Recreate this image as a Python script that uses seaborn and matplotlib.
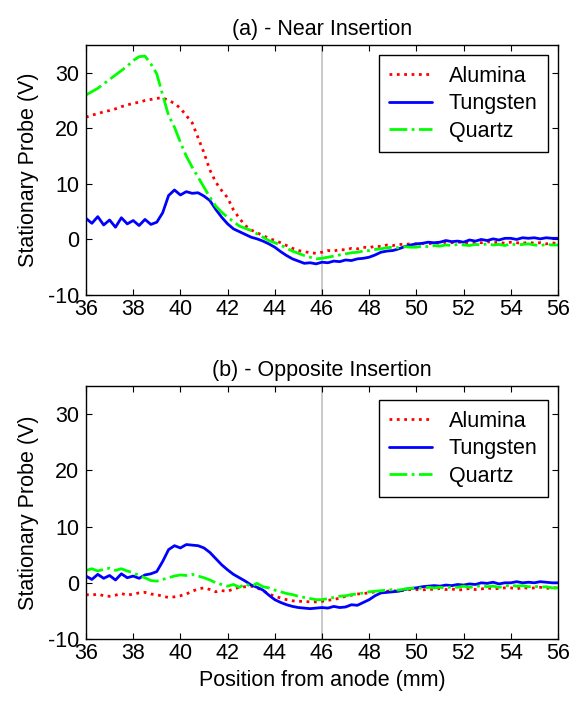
import numpy as np
import pandas as pd
import matplotlib
matplotlib.use("Agg")
import matplotlib.pyplot as plt
import seaborn as sns

# ---------------- data ----------------
position = np.linspace(36, 56, 81)  # sampling grid, mm (0.25 mm steps)

near_alumina = [
    22.0, 22.4, 22.6, 23.0, 23.2, 23.5, 23.9, 24.2,
    24.5, 24.7, 25.0, 25.2, 25.4, 25.5, 25.0, 24.5,
    23.6, 22.3, 21.0, 18.3, 15.6, 12.5, 10.3, 8.8,
    7.5, 5.3, 3.8, 2.5, 1.7, 1.2, 0.7, 0.2,
    -0.2, -0.6, -1.1, -1.6, -2.0, -2.2, -2.4, -2.5,
    -2.3, -2.0, -2.1, -1.8, -1.9, -1.6, -1.7, -1.4,
    -1.5, -1.2, -1.3, -1.0, -1.1, -0.9, -0.9, -0.8,
    -0.8, -0.7, -0.8, -0.6, -0.7, -0.5, -0.6, -0.5,
    -0.5, -0.7, -0.5, -0.6, -0.4, -0.6, -0.5, -0.7,
    -0.5, -0.6, -0.7, -0.5, -0.7, -0.6, -0.8, -0.6,
    -0.8]
near_tungsten = [
    3.8, 2.9, 4.1, 2.6, 3.5, 2.2, 3.9, 2.8,
    3.4, 2.5, 3.6, 2.7, 3.1, 4.8, 7.9, 8.9,
    8.0, 8.6, 8.3, 8.4, 7.8, 7.0, 5.4, 4.0,
    2.8, 1.9, 1.4, 0.9, 0.4, 0.1, -0.3, -0.8,
    -1.4, -2.2, -2.9, -3.5, -3.9, -4.3, -4.2, -4.4,
    -4.1, -4.2, -3.9, -4.0, -3.7, -3.8, -3.5, -3.4,
    -3.2, -2.8, -2.3, -2.1, -2.0, -1.7, -1.3, -1.0,
    -0.8, -0.7, -0.5, -0.6, -0.5, -0.2, -0.4, -0.3,
    -0.5, -0.1, -0.3, 0.0, -0.2, 0.1, -0.1, 0.2,
    0.2, 0.0, 0.3, 0.2, 0.3, 0.1, 0.3, 0.2,
    0.2]
near_quartz = [
    26.0, 26.6, 27.2, 28.0, 28.8, 29.6, 30.4, 31.2,
    32.2, 32.9, 33.0, 31.6, 29.8, 26.0, 22.3, 20.2,
    17.5, 15.0, 13.0, 11.2, 9.4, 7.6, 6.0, 4.9,
    4.0, 3.2, 2.4, 2.0, 1.6, 1.0, 0.4, -0.2,
    -0.6, -1.0, -1.6, -2.1, -2.5, -2.9, -3.2, -3.5,
    -3.4, -3.2, -3.0, -2.8, -2.6, -2.4, -2.3, -2.1,
    -2.0, -1.8, -1.7, -1.5, -1.4, -1.5, -1.3, -1.4,
    -1.4, -1.2, -1.3, -1.1, -1.2, -1.0, -1.1, -0.9,
    -1.0, -1.1, -0.9, -1.0, -0.8, -1.0, -0.9, -1.1,
    -0.8, -1.0, -0.9, -0.8, -1.0, -1.1, -0.9, -1.0,
    -1.0]

opp_alumina = [
    -2.1, -2.2, -2.0, -2.3, -2.4, -2.2, -1.9, -2.2,
    -2.0, -1.8, -1.7, -2.0, -2.1, -2.4, -2.6, -2.5,
    -2.3, -2.0, -1.5, -1.1, -0.9, -1.2, -1.6, -1.4,
    -1.5, -1.1, -0.8, -0.7, -0.6, -0.9, -1.4, -2.0,
    -2.4, -2.7, -3.0, -3.2, -3.3, -3.3, -3.4, -3.4,
    -3.3, -3.1, -3.0, -2.7, -2.4, -2.2, -2.0, -1.9,
    -1.8, -1.6, -1.7, -1.5, -1.4, -1.5, -1.3, -1.2,
    -1.2, -1.3, -1.1, -1.2, -1.0, -1.2, -1.1, -1.3,
    -1.2, -1.0, -1.2, -1.1, -0.9, -1.1, -1.0, -0.9,
    -0.9, -1.1, -0.8, -1.0, -0.9, -0.8, -1.0, -0.9,
    -0.9]
opp_tungsten = [
    1.2, 0.6, 1.5, 0.8, 1.3, 0.5, 1.6, 0.9,
    1.2, 0.8, 1.4, 1.6, 2.0, 3.8, 5.9, 6.6,
    6.2, 6.8, 6.7, 6.6, 6.2, 5.4, 4.3, 3.2,
    2.3, 1.5, 0.9, 0.3, -0.4, -0.8, -1.3, -2.2,
    -3.0, -3.5, -3.9, -4.2, -4.4, -4.5, -4.6, -4.5,
    -4.4, -4.5, -4.2, -4.4, -4.3, -3.9, -4.0, -3.5,
    -3.0, -2.3, -1.8, -1.7, -1.6, -1.5, -1.2, -1.0,
    -0.9, -0.7, -0.6, -0.5, -0.6, -0.4, -0.5, -0.3,
    -0.4, -0.2, -0.3, 0.0, -0.1, 0.1, -0.2, 0.0,
    0.0, 0.2, 0.0, 0.1, 0.0, 0.2, 0.1, 0.0,
    0.0]
opp_quartz = [
    2.2, 2.5, 2.1, 2.4, 2.6, 2.2, 2.5, 2.1,
    1.8, 1.3, 0.9, 0.4, 0.3, 0.6, 0.9, 1.2,
    1.4, 1.3, 1.5, 1.2, 0.9, 0.5, 0.0, -0.3,
    -0.6, -0.3, -0.8, -0.2, -0.6, -0.1, -0.7, -0.9,
    -1.3, -1.6, -1.9, -2.1, -2.4, -2.6, -2.8, -3.0,
    -3.0, -2.8, -2.6, -2.4, -2.3, -2.1, -2.0, -1.8,
    -1.6, -1.5, -1.4, -1.3, -1.2, -1.3, -1.1, -1.0,
    -0.9, -1.0, -0.8, -0.9, -0.8, -0.9, -0.7, -0.8,
    -0.6, -0.8, -0.7, -0.5, -0.7, -0.6, -0.8, -0.6,
    -0.4, -0.6, -0.5, -0.7, -0.6, -0.8, -0.7, -0.9,
    -0.9]

series_names = ["Alumina", "Tungsten", "Quartz"]
panel_titles = ["(a) - Near Insertion", "(b) - Opposite Insertion"]
x_ticks = [36, 38, 40, 42, 44, 46, 48, 50, 52, 54, 56]
y_ticks = [-10, 0, 10, 20, 30]
marker_position = 46

# ---------------- style ----------------
sns.set_style("ticks")
plt.rcParams["font.family"] = ["Liberation Sans", "DejaVu Sans"]
plt.rcParams["axes.unicode_minus"] = False
plt.rcParams["text.color"] = "black"
plt.rcParams["axes.labelcolor"] = "black"
plt.rcParams["xtick.color"] = "black"
plt.rcParams["ytick.color"] = "black"
FS = 15.5
colors = {"Alumina": "#ff0000", "Tungsten": "#0000ff", "Quartz": "#00ff00"}
styles = {"Alumina": ":", "Tungsten": "-", "Quartz": "-."}

fig = plt.figure(figsize=(5.79, 7.03), dpi=100)
ax_top = fig.add_axes([0.1485, 0.5804, 0.8152, 0.3556])
ax_bot = fig.add_axes([0.1485, 0.0910, 0.8152, 0.3599])

panels = [
    (ax_top, [near_alumina, near_tungsten, near_quartz], 0.96),
    (ax_bot, [opp_alumina, opp_tungsten, opp_quartz], 0.945),
]

for i, (ax, data, leg_y) in enumerate(panels):
    ax.axvline(marker_position, color="#c0c0c0", lw=1.2, zorder=0)
    for name, vals in zip(series_names, data):
        df = pd.DataFrame({"pos": position, "val": vals})
        sns.lineplot(data=df, x="pos", y="val", ax=ax, color=colors[name],
                     linestyle=styles[name], lw=2.0, label=name, zorder=2)
    ax.set_xlim(36, 56)
    ax.set_ylim(-10, 35)
    ax.set_xticks(x_ticks)
    ax.set_yticks(y_ticks)
    ax.tick_params(direction="in", top=True, right=True, length=4, width=0.8,
                   labelsize=FS, colors="black")
    ax.tick_params(axis="x", pad=3)
    ax.tick_params(axis="y", pad=5)
    for sp in ax.spines.values():
        sp.set_visible(True)
        sp.set_color("black")
        sp.set_linewidth(1.0)
    ax.set_title(panel_titles[i], fontsize=FS, pad=7, color="black")
    ax.set_ylabel("Stationary Probe (V)", fontsize=FS, labelpad=6)
    ax.set_xlabel("")
    leg = ax.legend(loc="upper right", bbox_to_anchor=(0.979, leg_y),
                    borderaxespad=0, fontsize=FS, fancybox=False,
                    framealpha=1, edgecolor="black", handlelength=2.0,
                    handletextpad=0.75, labelspacing=0.3, borderpad=0.5)
    leg.get_frame().set_linewidth(1.0)

ax_bot.set_xlabel("Position from anode (mm)", fontsize=FS, labelpad=4)

fig.savefig("out.png", dpi=100)
